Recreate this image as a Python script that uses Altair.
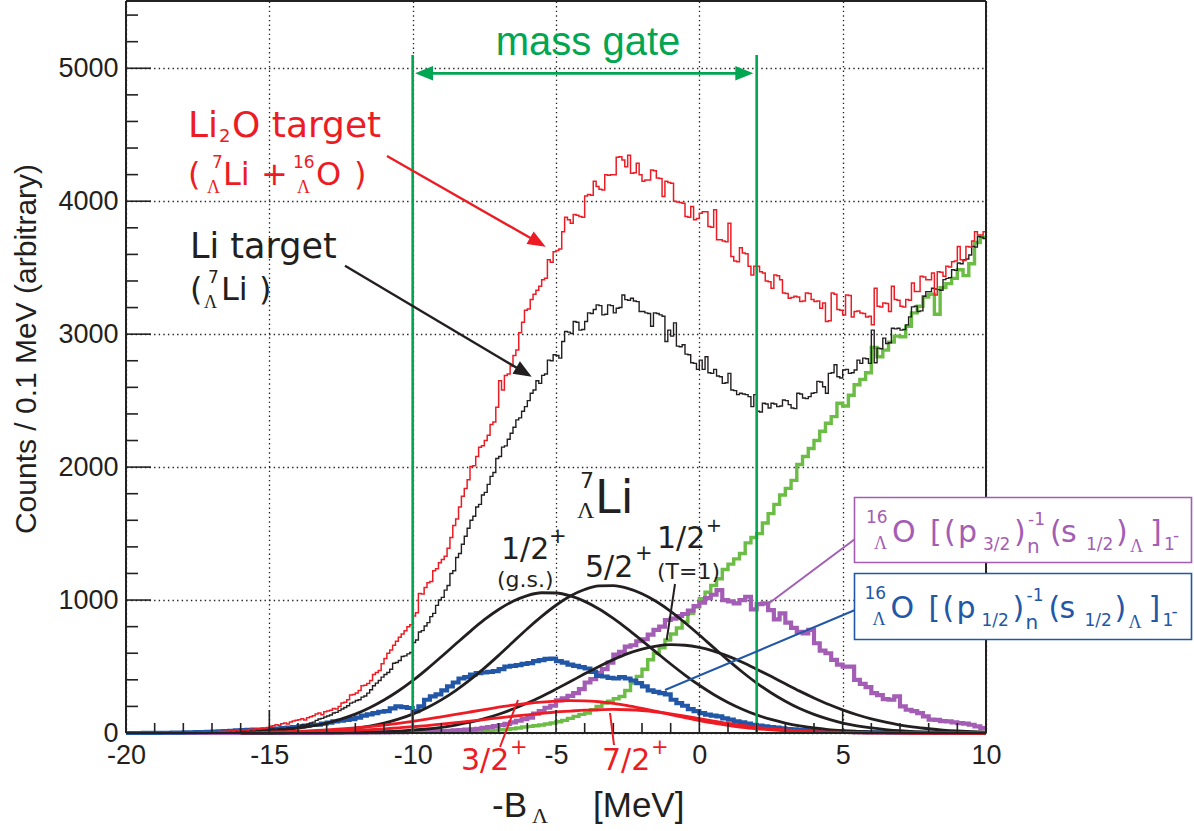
import math
import altair as alt
import numpy as np
import pandas as pd

# ---------------- data ----------------
# histograms: 0.1 MeV bins from -20 to 10
RED_LI2O = [
    2, 1, 2, 3, 2, 1, 3, 2, 4, 3,
    3, 4, 2, 5, 3, 4, 6, 3, 5, 4,
    5, 6, 4, 7, 6, 8, 5, 9, 7, 8,
    10, 8, 12, 11, 14, 12, 16, 13, 18, 15,
    20, 24, 19, 28, 25, 32, 30, 36, 33, 42,
    50, 55, 62, 58, 70, 75, 68, 82, 90, 95,
    100, 108, 98, 115, 122, 130, 142, 150, 138, 160,
    165, 172, 185, 180, 200, 225, 232, 250, 285, 290,
    300, 320, 355, 360, 372, 395, 440, 455, 470, 520,
    560, 600, 625, 660, 690, 720, 745, 770, 800, 815,
    880, 905, 1050, 1045, 1095, 1130, 1140, 1220, 1235, 1280,
    1305, 1330, 1390, 1470, 1560, 1610, 1700, 1780, 1840, 1905,
    2005, 2010, 2080, 2150, 2160, 2200, 2240, 2320, 2340, 2450,
    2650, 2580, 2690, 2700, 2760, 2840, 2880, 3010, 3090, 3180,
    3190, 3260, 3300, 3330, 3360, 3410, 3420, 3560, 3540, 3620,
    3630, 3640, 3770, 3880, 3860, 3835, 3900, 3895, 3885, 3880,
    4040, 4050, 4045, 4150, 4110, 4090, 4085, 4200, 4195, 4200,
    4200, 4330, 4335, 4310, 4260, 4345, 4210, 4215, 4285, 4200,
    4150, 4160, 4160, 4235, 4230, 4175, 4170, 4035, 4150, 4140,
    4135, 4000, 3995, 3990, 3985, 3885, 3880, 3960, 3860, 3870,
    3910, 3920, 3920, 3810, 3805, 3935, 3710, 3710, 3700, 3695,
    3835, 3585, 3550, 3545, 3650, 3610, 3605, 3510, 3445, 3510,
    3510, 3470, 3460, 3400, 3395, 3345, 3445, 3440, 3410, 3310,
    3305, 3270, 3275, 3285, 3280, 3245, 3250, 3310, 3305, 3260,
    3245, 3250, 3195, 3235, 3095, 3100, 3310, 3300, 3185, 3180,
    3145, 3295, 3290, 3130, 3170, 3175, 3160, 3155, 3130, 3135,
    3070, 3345, 3210, 3205, 3235, 3230, 3170, 3360, 3260, 3255,
    3210, 3205, 3260, 3255, 3385, 3320, 3320, 3435, 3430, 3410,
    3410, 3460, 3295, 3470, 3465, 3435, 3510, 3505, 3545, 3550,
    3660, 3560, 3555, 3660, 3655, 3700, 3770, 3745, 3745, 3770,
]
BLACK_LI = [
    1, 0, 1, 2, 1, 0, 2, 1, 2, 1,
    2, 3, 1, 3, 2, 4, 2, 3, 4, 3,
    4, 5, 3, 5, 4, 6, 5, 7, 6, 6,
    8, 7, 9, 8, 10, 9, 12, 10, 13, 12,
    14, 16, 15, 18, 17, 20, 19, 22, 21, 25,
    28, 30, 27, 33, 35, 32, 38, 40, 37, 42,
    45, 60, 58, 66, 75, 82, 95, 105, 110, 120,
    128, 135, 150, 155, 168, 180, 192, 205, 225, 232,
    245, 250, 270, 278, 300, 325, 355, 375, 395, 420,
    440, 455, 480, 525, 530, 545, 575, 580, 595, 605,
    680, 700, 760, 770, 805, 830, 875, 900, 960, 1000,
    1020, 1075, 1110, 1200, 1220, 1320, 1350, 1420, 1480, 1540,
    1600, 1630, 1700, 1720, 1790, 1810, 1870, 1930, 1960, 2065,
    2080, 2150, 2160, 2210, 2255, 2300, 2355, 2370, 2420, 2455,
    2500, 2555, 2580, 2650, 2630, 2690, 2700, 2805, 2800, 2845,
    2840, 2820, 2945, 3020, 3015, 3005, 3095, 3090, 3030, 3035,
    3095, 3160, 3155, 3185, 3220, 3215, 3145, 3150, 3220, 3215,
    3160, 3195, 3200, 3295, 3260, 3255, 3270, 3250, 3245, 3170,
    3170, 3160, 3155, 3060, 3160, 3155, 3145, 3135, 2945, 3030,
    2985, 3085, 2910, 2905, 2920, 2850, 2845, 2785, 2780, 2735,
    2805, 2735, 2830, 2710, 2705, 2735, 2685, 2680, 2630, 2635,
    2705, 2580, 2575, 2545, 2555, 2550, 2545, 2530, 2455, 2545,
    2420, 2415, 2480, 2475, 2445, 2480, 2475, 2455, 2460, 2505,
    2500, 2470, 2445, 2440, 2555, 2550, 2520, 2515, 2530, 2555,
    2560, 2645, 2640, 2605, 2555, 2705, 2710, 2770, 2680, 2670,
    2730, 2735, 2705, 2710, 2730, 2805, 2780, 2820, 2815, 2780,
    3030, 2785, 2895, 2890, 2970, 2930, 2935, 3045, 3040, 3045,
    3030, 3035, 3070, 3130, 3205, 3210, 3170, 3175, 3285, 3320,
    3320, 3345, 3340, 3335, 3330, 3410, 3420, 3425, 3485, 3480,
    3535, 3530, 3560, 3565, 3595, 3660, 3655, 3735, 3730, 3720,
]
# 0.2 MeV bins from -20 to 10
GREEN_BG = [
    0, 0, 0, 0, 0, 0, 0, 0, 0, 0, 0, 0, 0, 0, 0, 0, 0, 0, 0, 0,
    0, 0, 0, 1, 0, 1, 1, 0, 1, 1, 2, 1, 2, 2, 1, 2, 3, 2, 3, 3,
    4, 3, 5, 4, 6, 5, 7, 6, 8, 7,
    8, 9, 8, 10, 9, 11, 10, 12, 11, 13,
    14, 15, 17, 19, 22, 25, 28, 32, 38, 45,
    50, 55, 60, 68, 75, 85, 95, 110, 125, 140,
    150, 175, 200, 225, 240, 258, 275, 320, 376, 426,
    480, 551, 600, 640, 700, 745, 790, 835, 900, 950,
    1010, 1060, 1110, 1160, 1230, 1270, 1310, 1350, 1430, 1470,
    1500, 1580, 1650, 1720, 1790, 1840, 1900, 2020, 2080, 2140,
    2200, 2270, 2330, 2380, 2480, 2460, 2540, 2620, 2660, 2710,
    2900, 2830, 2880, 2940, 2985, 2980, 3060, 3160, 3210, 3280,
    3300, 3150, 3350, 3380, 3420, 3485, 3440, 3530, 3690, 3730,
]
PURPLE_P32 = [
    0, 0, 0, 0, 0, 0, 0, 0, 0, 0, 0, 0, 0, 0, 0, 0, 0, 0, 0, 0,
    0, 0, 0, 0, 0, 0, 0, 0, 1, 0, 1, 1, 1, 1, 2, 1, 2, 2, 3, 2,
    3, 3, 4, 4, 5, 5, 6, 6, 7, 8,
    9, 10, 11, 12, 14, 15, 17, 20, 22, 25,
    28, 32, 38, 45, 52, 60, 68, 80, 92, 105,
    115, 145, 165, 190, 205, 245, 260, 280, 300, 330,
    380, 405, 450, 480, 530, 590, 610, 650, 660, 690,
    705, 740, 775, 800, 850, 860, 880, 895, 920, 955,
    980, 1015, 1040, 1075, 1000, 990, 975, 1000, 1025, 930,
    970, 975, 925, 855, 900, 830, 790, 760, 750, 775,
    675, 620, 600, 550, 515, 500, 500, 400, 370, 345,
    300, 285, 255, 250, 275, 200, 175, 165, 150, 125,
    100, 98, 90, 87, 80, 75, 70, 62, 50, 37,
]
BLUE_P12 = [
    0, 0, 0, 1, 1, 1, 2, 2, 3, 3, 4, 5, 6, 7, 8, 10, 12, 14, 17, 20,
    22, 24, 25, 26, 28, 30, 33, 36, 40, 45, 50, 55, 60, 62, 70, 78, 87, 92, 98, 105,
    115, 130, 140, 150, 160, 165, 185, 200, 195, 188,
    165, 200, 250, 275, 290, 320, 350, 380, 410, 420,
    440, 450, 455, 460, 465, 480, 500, 505, 510, 520,
    525, 540, 548, 558, 560, 540, 530, 515, 505, 495,
    485, 460, 430, 425, 415, 410, 420, 410, 395, 375,
    350, 320, 310, 300, 290, 250, 225, 205, 180, 165,
    150, 138, 130, 125, 110, 100, 88, 80, 70, 62,
    55, 50, 45, 40, 35, 30, 27, 24, 21, 18,
    16, 14, 12, 11, 10, 9, 8, 7, 6, 5,
    5, 4, 4, 3, 3, 3, 2, 2, 2, 2,
    2, 1, 1, 1, 1, 1, 1, 1, 0, 0,
]
# fitted peak shapes, sampled every 0.5 MeV from -16 to 10
FIT_GS_12 = [6, 10, 16, 24, 36, 53, 75, 105, 142, 190, 248, 316, 394, 481, 574, 669,
             763, 852, 929, 991, 1034, 1055, 1053, 1031, 990, 933, 862, 782, 695, 607, 519, 436,
             359, 290, 230, 179, 136, 102, 75, 54, 38, 26, 18, 12, 8, 5, 3, 2, 1, 1, 0, 0, 0]
FIT_52 = [1, 1, 2, 4, 6, 10, 16, 24, 36, 52, 74, 104, 142, 190, 249, 319,
          399, 488, 584, 684, 784, 877, 961, 1030, 1079, 1106, 1108, 1088, 1048, 989, 915, 829,
          737, 642, 548, 459, 376, 303, 239, 184, 140, 104, 75, 54, 38, 26, 17, 11, 7, 5, 3, 2, 1]
FIT_T1_12 = [0, 0, 0, 0, 1, 1, 1, 2, 4, 6, 9, 14, 21, 30, 43, 60,
             81, 108, 141, 180, 225, 275, 330, 387, 445, 501, 552, 597, 631, 654, 664, 660,
             644, 616, 578, 532, 480, 426, 370, 315, 264, 216, 174, 137, 106, 81, 60, 44, 32, 22, 15, 10, 7]
FIT_32 = [3, 5, 7, 9, 13, 17, 23, 30, 38, 48, 60, 73, 88, 104, 122, 140,
          158, 176, 194, 209, 222, 232, 239, 243, 242, 235, 223, 206, 185, 163, 139, 116,
          94, 75, 58, 43, 32, 23, 16, 11, 7, 5, 3, 2, 1, 1, 0, 0, 0, 0, 0, 0, 0]
FIT_72 = [2, 3, 4, 5, 7, 9, 12, 16, 20, 25, 31, 39, 47, 56, 67, 78,
          89, 101, 114, 126, 137, 148, 158, 165, 172, 175, 177, 175, 169, 158, 143, 126,
          108, 90, 72, 57, 43, 32, 23, 16, 11, 7, 5, 3, 2, 1, 1, 0, 0, 0, 0, 0, 0]
GATE = [-10, 2]
GATE_TOP = 5100
X_MAJOR = [-20, -15, -10, -5, 0, 5, 10]
Y_MAJOR = [0, 1000, 2000, 3000, 4000, 5000]

# ---------------- styles / layout ----------------
W, H = 860, 732
PADL, PADT = 126, 1
XMIN, XMAX, YMAX = -20, 10, 5506
RED = "#ed1c24"
BLACK = "#231f20"
GATEC = "#00a651"
GREENH = "#6cbd45"
PURPLE = "#a35db5"
BLUE = "#2257a7"


def px2x(px):
    return (px - PADL) / (W / (XMAX - XMIN)) + XMIN


def py2y(py):
    return (PADT + H - py) * YMAX / H


xs = alt.Scale(domain=[XMIN, XMAX], nice=False, zero=False)
ys = alt.Scale(domain=[0, YMAX], nice=False, zero=False)
XAX = alt.Axis(values=X_MAJOR, title=None, grid=True, gridColor="#222", gridDash=[1.4, 3.2],
               gridWidth=1.3, ticks=False, tickSize=0, domain=False, labelFont="Liberation Sans",
               labelFontSize=27, labelColor=BLACK, labelPadding=9, labelOverlap=False,
               labelFlush=False, labelExpr="'' + datum.value")
YAX = alt.Axis(values=Y_MAJOR, title=None, grid=True, gridColor="#222", gridDash=[1.4, 3.2],
               gridWidth=1.3, ticks=False, tickSize=0, domain=False, labelFont="Liberation Sans",
               labelFontSize=27, labelColor=BLACK, labelPadding=8, labelOverlap=False,
               labelFlush=False, labelExpr="'' + datum.value")


def EX(f):
    return alt.X(f, type="quantitative", scale=xs, axis=XAX)


def EY(f):
    return alt.Y(f, type="quantitative", scale=ys, axis=YAX)


def hist_df(vals, width):
    edges = XMIN + width * np.arange(len(vals) + 1)
    return pd.DataFrame({"x": edges, "y": list(vals) + [vals[-1]]})


def hist(vals, width, color, sw):
    return alt.Chart(hist_df(vals, width)).mark_line(
        interpolate="step-after", color=color, strokeWidth=sw, strokeJoin="miter"
    ).encode(x=EX("x"), y=EY("y"))


curve_x = -16 + 0.5 * np.arange(len(FIT_GS_12))


def curve(vals, color):
    df = pd.DataFrame({"x": curve_x, "y": vals})
    return alt.Chart(df).mark_line(interpolate="monotone", color=color, strokeWidth=2.8).encode(
        x=EX("x"), y=EY("y"))


layers = []
layers.append(hist(GREEN_BG, 0.2, GREENH, 3.4))
layers.append(hist(PURPLE_P32, 0.2, PURPLE, 4.2))
layers.append(hist(BLUE_P12, 0.2, BLUE, 4.2))
for vals in (FIT_GS_12, FIT_52, FIT_T1_12):
    layers.append(curve(vals, BLACK))
for vals in (FIT_32, FIT_72):
    layers.append(curve(vals, RED))
layers.append(hist(BLACK_LI, 0.1, BLACK, 1.4))
layers.append(hist(RED_LI2O, 0.1, RED, 1.5))

# mass gate lines
gate_df = pd.DataFrame({"x": GATE, "y": [0, 0], "y2": [GATE_TOP, GATE_TOP]})
layers.append(alt.Chart(gate_df).mark_rule(color=GATEC, strokeWidth=2.6).encode(
    x=EX("x"), y=EY("y"), y2="y2"))

# frame
frame = alt.Chart(pd.DataFrame({"a": [0]})).mark_rule(color="#222", strokeWidth=2)
layers.append(frame.encode(x=alt.value(0), y=alt.value(0), y2=alt.value(H)))
layers.append(frame.encode(x=alt.value(W), y=alt.value(0), y2=alt.value(H)))
layers.append(frame.encode(x=alt.value(0), x2=alt.value(W), y=alt.value(0)))
layers.append(frame.encode(x=alt.value(0), x2=alt.value(W), y=alt.value(H)))

# inner ticks
x_minor = [v for v in range(-19, 10) if v % 5 != 0]
x_major = [-15, -10, -5, 0, 5]
y_minor = [v for v in range(200, 5500, 200) if v % 1000 != 0]
y_major = [1000, 2000, 3000, 4000, 5000]
tk = dict(color="#222", strokeWidth=1.6)
layers.append(alt.Chart(pd.DataFrame({"v": x_minor})).mark_rule(**tk).encode(
    x=EX("v"), y=alt.value(H), y2=alt.value(H - 10)))
layers.append(alt.Chart(pd.DataFrame({"v": x_major})).mark_rule(**tk).encode(
    x=EX("v"), y=alt.value(H), y2=alt.value(H - 23)))
layers.append(alt.Chart(pd.DataFrame({"v": y_minor})).mark_rule(**tk).encode(
    y=EY("v"), x=alt.value(0), x2=alt.value(12)))
layers.append(alt.Chart(pd.DataFrame({"v": y_major})).mark_rule(**tk).encode(
    y=EY("v"), x=alt.value(0), x2=alt.value(25)))

# annotation segments & arrow heads (pixel layout -> data coordinates)
HEAD_LEN = 18


def head(start, tip):
    dx, dy = tip[0] - start[0], tip[1] - start[1]
    d = math.hypot(dx, dy)
    cx, cy = tip[0] - dx / d * HEAD_LEN / 2, tip[1] - dy / d * HEAD_LEN / 2
    return cx, cy, math.degrees(math.atan2(dy, dx)) % 360


segs = []
heads = []
for start, tip, col in [((387, 156), (545.7, 246.7), RED), ((345, 265.7), (531.7, 376.7), BLACK)]:
    cx, cy, ang = head(start, tip)
    segs.append((start[0], start[1], cx, cy, col, 2.4))
    heads.append((cx, cy, ang, col))
ga_y = 73.3
segs.append((420, ga_y, 748, ga_y, GATEC, 2.8))
heads.append((415 + HEAD_LEN / 2, ga_y, 180, GATEC))
heads.append((753.3 - HEAD_LEN / 2, ga_y, 0, GATEC))
segs += [
    (675, 584, 666.7, 640, BLACK, 2.0),
    (500, 747, 518, 700, RED, 2.0),
    (614, 745, 610, 713, RED, 2.0),
    (768, 604, 855, 539, PURPLE, 2.0),
    (665, 690, 855, 610, BLUE, 2.0),
]
seg_df = pd.DataFrame([{"x": px2x(a), "y": py2y(b), "x2": px2x(c), "y2": py2y(d), "c": col, "w": w}
                       for a, b, c, d, col, w in segs])
layers.append(alt.Chart(seg_df).mark_rule(strokeCap="butt").encode(
    x=EX("x"), y=EY("y"), x2="x2", y2="y2",
    color=alt.Color("c:N", scale=None), strokeWidth=alt.StrokeWidth("w:Q", scale=None)))
head_df = pd.DataFrame([{"x": px2x(a), "y": py2y(b), "a": ang, "c": col} for a, b, ang, col in heads])
layers.append(alt.Chart(head_df).mark_point(
    shape="M1,0L-1,-0.8L-1,0.8Z", filled=True, size=HEAD_LEN ** 2, opacity=1, strokeWidth=0
).encode(x=EX("x"), y=EY("y"), angle=alt.Angle("a:Q", scale=None),
         color=alt.Color("c:N", scale=None)))

# label boxes
boxes = [(854.5, 497.5, 1191.5, 562.5, PURPLE), (854.5, 573.5, 1191.5, 639.5, BLUE)]
box_df = pd.DataFrame([{"x": px2x(a), "y": py2y(b), "x2": px2x(c), "y2": py2y(d), "c": col}
                       for a, b, c, d, col in boxes])
layers.append(alt.Chart(box_df).mark_rect(fill="white", strokeWidth=1.6).encode(
    x=EX("x"), y=EY("y"), x2="x2", y2="y2", stroke=alt.Stroke("c:N", scale=None)))

# text pieces: (px, baseline py, text, size, color, font, align)
SANS, DV, SERIF = "Liberation Sans", "DejaVu Sans", "Liberation Serif"
T = [
    (588, 55, "mass gate", 40, GATEC, SANS, "center"),
    (188, 137, "Li", 36, RED, DV, "left"),
    (219, 142, "2", 18, RED, DV, "left"),
    (232, 137, "O target", 36, RED, DV, "left"),
    (188, 185, "(", 32, RED, DV, "left"),
    (212, 168, "7", 17, RED, DV, "left"),
    (207, 193, "Λ", 18, RED, SERIF, "left"),
    (223, 185, "Li", 32, RED, DV, "left"),
    (261, 185, "+", 32, RED, DV, "left"),
    (293, 168, "16", 17, RED, DV, "left"),
    (297, 193, "Λ", 18, RED, SERIF, "left"),
    (316, 185, "O", 32, RED, DV, "left"),
    (354, 185, ")", 32, RED, DV, "left"),
    (190, 258, "Li target", 35, BLACK, DV, "left"),
    (190, 300, "(", 32, BLACK, DV, "left"),
    (208, 283, "7", 17, BLACK, DV, "left"),
    (204, 308, "Λ", 18, BLACK, SERIF, "left"),
    (221, 300, "Li", 32, BLACK, DV, "left"),
    (259, 300, ")", 32, BLACK, DV, "left"),
    (580, 488, "7", 22, BLACK, DV, "left"),
    (577, 518, "Λ", 24, BLACK, SERIF, "left"),
    (595, 513, "Li", 46, BLACK, DV, "left"),
    (501, 559, "1/2", 30, BLACK, DV, "left"),
    (549, 543, "+", 21, BLACK, DV, "left"),
    (497, 587, "(g.s.)", 22, BLACK, DV, "left"),
    (585, 577, "5/2", 30, BLACK, DV, "left"),
    (635, 560, "+", 21, BLACK, DV, "left"),
    (657, 548, "1/2", 30, BLACK, DV, "left"),
    (706, 532, "+", 19, BLACK, DV, "left"),
    (657, 579, "(T=1)", 22, BLACK, DV, "left"),
    (461, 770, "3/2", 30, RED, DV, "left"),
    (510, 754, "+", 21, RED, DV, "left"),
    (602, 770, "7/2", 30, RED, DV, "left"),
    (651, 754, "+", 21, RED, DV, "left"),
    (492, 817, "-B", 35, BLACK, SANS, "left"),
    (532, 823, "Λ", 22, BLACK, SERIF, "left"),
    (593, 817, "[MeV]", 35, BLACK, SANS, "left"),
]
for col, dy, sub in [(PURPLE, 0, "3/2"), (BLUE, 76, "1/2")]:
    dx = 0 if col == PURPLE else -1.5
    T += [
        (866 + dx, 523 + dy, "16", 17, col, DV, "left"),
        (874 + dx, 549 + dy, "Λ", 18, col, SERIF, "left"),
        (892 + dx, 542 + dy, "O", 30, col, DV, "left"),
        (930 + dx, 542 + dy, "[", 30, col, DV, "left"),
        (944 + dx, 542 + dy, "(", 30, col, DV, "left"),
        (958 + dx, 542 + dy, "p", 30, col, DV, "left"),
        (983 + dx, 550 + dy, sub, 17, col, DV, "left"),
        (1014 + dx, 542 + dy, ")", 30, col, DV, "left"),
        (1028 + dx, 525 + dy, "-1", 17, col, DV, "left"),
        (1027 + dx, 553 + dy, "n", 20, col, DV, "left"),
        (1050 + dx, 542 + dy, "(", 30, col, DV, "left"),
        (1061 + dx, 542 + dy, "s", 30, col, DV, "left"),
        (1086 + dx, 550 + dy, "1/2", 17, col, DV, "left"),
        (1116 + dx, 542 + dy, ")", 30, col, DV, "left"),
        (1130 + dx, 552 + dy, "Λ", 18, col, SERIF, "left"),
        (1150 + dx, 542 + dy, "]", 30, col, DV, "left"),
        (1164 + dx, 550 + dy, "1", 17, col, DV, "left"),
        (1173 + dx, 541 + dy, "-", 17, col, DV, "left"),
    ]
tdf = pd.DataFrame([{"x": px2x(a), "y": py2y(b), "t": t, "s": s, "c": c, "f": f, "al": al}
                    for a, b, t, s, c, f, al in T])
for (f, al), g in tdf.groupby(["f", "al"]):
    layers.append(alt.Chart(g).mark_text(font=f, align=al, baseline="alphabetic").encode(
        x=EX("x"), y=EY("y"), text="t:N", size=alt.Size("s:Q", scale=None),
        color=alt.Color("c:N", scale=None)))

# y axis title (rotated)
ytitle = pd.DataFrame({"x": [px2x(27)], "y": [py2y(349)], "t": ["Counts / 0.1 MeV (arbitrary)"]})
layers.append(alt.Chart(ytitle).mark_text(font=SANS, fontSize=30, angle=270, align="center",
                                          baseline="middle", color=BLACK).encode(
    x=EX("x"), y=EY("y"), text="t:N"))

chart = alt.layer(*layers).properties(
    width=W, height=H,
    autosize=alt.AutoSizeParams(type="none"),
    padding={"left": PADL, "top": PADT, "right": 1194 - PADL - W, "bottom": 831 - PADT - H},
    background="white",
).configure_view(stroke=None)

chart.save("out.html", embed_options={"renderer": "svg", "actions": False})
